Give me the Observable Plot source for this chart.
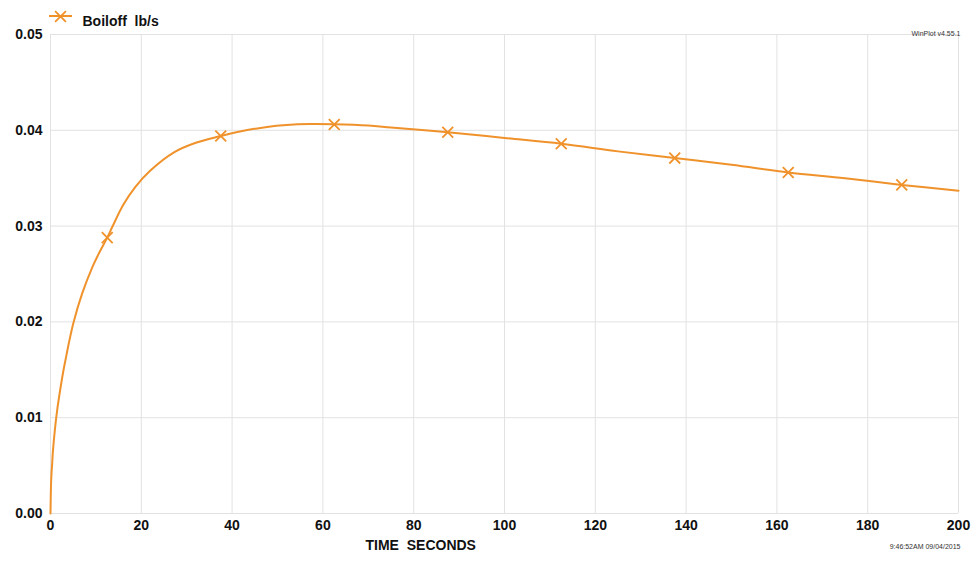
<!DOCTYPE html>
<html>
<head>
<meta charset="utf-8">
<script src="https://cdn.jsdelivr.net/npm/d3@7"></script>
<script src="https://cdn.jsdelivr.net/npm/@observablehq/plot@0.6"></script>
<style>
  html, body { margin: 0; padding: 0; background: #fff; }
  #chart { position: relative; width: 971px; height: 563px; }
  svg { font-family: "Liberation Sans", Arial, sans-serif; }
</style>
</head>
<body>
<div id="chart"></div>
<script>
// ---- data ----
const curveTime    = [0, 0.1, 0.2, 0.37, 0.5, 1, 1.5, 2, 2.8, 3.5, 4, 5.1, 7, 9.2, 10.5, 12.5, 13.6, 16, 18.7, 22, 27.2, 32, 37.5, 42, 47.7, 52, 57, 62.5, 70, 75, 87.5, 100, 112.5, 125, 137.5, 150, 162.5, 175, 187.5, 200];
const curveBoiloff = [0, 0.0028, 0.0040, 0.0052, 0.0063, 0.0089, 0.0109, 0.0125, 0.0148, 0.0165, 0.0177, 0.0200, 0.0230, 0.0257, 0.0270, 0.0288, 0.0299, 0.0322, 0.0341, 0.0358, 0.0377, 0.0387, 0.0394, 0.0399, 0.04035, 0.04055, 0.04065, 0.04063, 0.0405, 0.0403, 0.0398, 0.0392, 0.0386, 0.0378, 0.0371, 0.0364, 0.0356, 0.0350, 0.0343, 0.0337];
const markerTime    = [12.5, 37.5, 62.5, 87.5, 112.5, 137.5, 162.5, 187.5];
const markerBoiloff = [0.0288, 0.0394, 0.0406, 0.0398, 0.0386, 0.0371, 0.0356, 0.0343];
const xTicks = [0, 20, 40, 60, 80, 100, 120, 140, 160, 180, 200];
const yTicks = [0, 0.01, 0.02, 0.03, 0.04, 0.05];
const seriesName = "Boiloff  lb/s";
const xLabel = "TIME  SECONDS";
const versionText = "WinPlot v4.55.1";
const stampText = "9:46:52AM 09/04/2015";

const color = "#f0922b";
const curve = curveTime.map((t, i) => ({t, v: curveBoiloff[i]}));
const markers = markerTime.map((t, i) => ({t, v: markerBoiloff[i]}));

const plot = Plot.plot({
  width: 971,
  height: 563,
  marginTop: 34,
  marginBottom: 50,
  marginLeft: 50,
  marginRight: 13,
  style: {fontFamily: "Liberation Sans, Arial, sans-serif", fontSize: "14px", fontWeight: "bold", color: "#111", background: "#fff"},
  x: {domain: [0, 200], label: null},
  y: {domain: [0, 0.05], label: null},
  marks: [
    Plot.gridX(xTicks, {stroke: "#e2e2e2", strokeOpacity: 1}),
    Plot.gridY(yTicks, {stroke: "#e2e2e2", strokeOpacity: 1}),
    Plot.axisX({ticks: xTicks, tickSize: 0, tickPadding: 7, fontWeight: "bold", label: null}),
    Plot.axisY({ticks: yTicks, tickSize: 0, tickPadding: 8, tickFormat: d3.format(".2f"), fontWeight: "bold", label: null}),
    Plot.line(curve, {x: "t", y: "v", stroke: color, strokeWidth: 2, curve: "catmull-rom"}),
    Plot.dot(markers, {x: "t", y: "v", symbol: "times", stroke: color, strokeWidth: 1.8, r: 5}),
    // x label
    Plot.text([xLabel], {frameAnchor: "bottom-left", dx: 315, dy: 36, textAnchor: "start", fontSize: 14, fontWeight: "bold", fill: "#111"}),
    // legend
    Plot.text([seriesName], {frameAnchor: "top-left", dx: 32, dy: -18, textAnchor: "start", fontSize: 14, fontWeight: "bold", fill: "#111"}),
    Plot.dot([0], {frameAnchor: "top-left", dx: 10, dy: -18, symbol: "times", stroke: color, strokeWidth: 1.8, r: 5}),
    // version + timestamp
    Plot.text([versionText], {frameAnchor: "top-right", dx: 2, dy: -3, textAnchor: "end", fontSize: 7, fontWeight: "normal", fill: "#333"}),
    Plot.text([stampText], {frameAnchor: "bottom-right", dx: 2, dy: 35, textAnchor: "end", fontSize: 7, fontWeight: "normal", fill: "#333"})
  ]
});

document.getElementById("chart").appendChild(plot);

// legend key line beside the legend marker
d3.select(plot).insert("line", ":first-child")
  .attr("x1", 49).attr("x2", 72).attr("y1", 16).attr("y2", 16)
  .attr("stroke", color).attr("stroke-width", 2);
</script>
</body>
</html>
